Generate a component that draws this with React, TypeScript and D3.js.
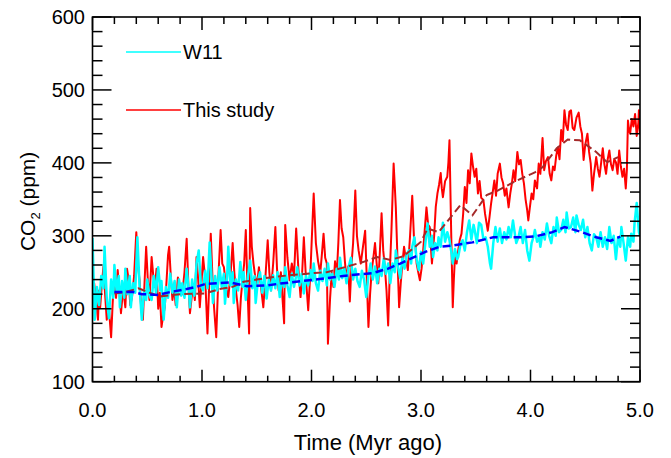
import React from "react";
import * as d3 from "d3";

// time (Myr ago), CO2 (ppm)
const thisStudy: [number, number][] = [
  [0.0, 216], [0.015, 235], [0.03, 214], [0.05, 185], [0.06, 225], [0.07, 202], [0.085, 232],
  [0.1, 258], [0.115, 220], [0.13, 185], [0.15, 200], [0.17, 161], [0.185, 210], [0.2, 243],
  [0.215, 215], [0.23, 253], [0.245, 225], [0.26, 194], [0.28, 228], [0.3, 202], [0.315, 255],
  [0.33, 240], [0.345, 205], [0.36, 215], [0.38, 245], [0.4, 305], [0.415, 260], [0.43, 239],
  [0.445, 200], [0.46, 185], [0.475, 235], [0.49, 285], [0.505, 240], [0.52, 212], [0.54, 271],
  [0.555, 245], [0.57, 230], [0.585, 255], [0.6, 200], [0.615, 222], [0.63, 175], [0.645, 190],
  [0.66, 202], [0.675, 235], [0.69, 274], [0.7, 285], [0.715, 245], [0.73, 212], [0.745, 228],
  [0.76, 205], [0.78, 243], [0.8, 232], [0.82, 220], [0.84, 250], [0.86, 296], [0.875, 235],
  [0.89, 194], [0.905, 215], [0.92, 230], [0.935, 212], [0.95, 271], [0.965, 240], [0.98, 202],
  [0.995, 235], [1.01, 271], [1.03, 240], [1.05, 166], [1.065, 230], [1.08, 303], [1.095, 245],
  [1.11, 202], [1.13, 161], [1.15, 245], [1.17, 308], [1.185, 262], [1.2, 257], [1.22, 230],
  [1.24, 216], [1.26, 245], [1.28, 290], [1.295, 250], [1.31, 225], [1.325, 205], [1.34, 175],
  [1.355, 215], [1.37, 240], [1.385, 262], [1.4, 308], [1.415, 230], [1.43, 166], [1.44, 338],
  [1.455, 285], [1.47, 262], [1.485, 245], [1.5, 230], [1.52, 257], [1.54, 228], [1.56, 202],
  [1.58, 245], [1.6, 294], [1.615, 250], [1.63, 225], [1.65, 262], [1.67, 312], [1.685, 255],
  [1.7, 225], [1.72, 250], [1.735, 215], [1.75, 180], [1.76, 315], [1.78, 270], [1.8, 239],
  [1.82, 262], [1.84, 245], [1.86, 310], [1.88, 255], [1.9, 216], [1.915, 250], [1.93, 298],
  [1.95, 240], [1.97, 198], [1.99, 250], [2.02, 358], [2.04, 290], [2.06, 265], [2.08, 249],
  [2.095, 275], [2.11, 303], [2.125, 270], [2.14, 262], [2.15, 152], [2.17, 215], [2.185, 250],
  [2.2, 230], [2.215, 265], [2.23, 245], [2.245, 290], [2.26, 349], [2.275, 310], [2.29, 298],
  [2.305, 265], [2.32, 240], [2.335, 258], [2.35, 210], [2.365, 260], [2.38, 290], [2.4, 362],
  [2.415, 300], [2.43, 280], [2.45, 262], [2.47, 285], [2.49, 307], [2.505, 240], [2.52, 175],
  [2.535, 220], [2.55, 253], [2.565, 270], [2.58, 290], [2.595, 262], [2.61, 235], [2.625, 280],
  [2.64, 331], [2.655, 280], [2.67, 257], [2.685, 225], [2.7, 177], [2.715, 250], [2.73, 307],
  [2.75, 399], [2.76, 370], [2.77, 339], [2.785, 270], [2.8, 202], [2.815, 235], [2.83, 262],
  [2.845, 285], [2.86, 270], [2.88, 253], [2.9, 300], [2.92, 355], [2.935, 300], [2.95, 285],
  [2.96, 262], [2.975, 250], [2.99, 239], [3.005, 255], [3.02, 280], [3.035, 310], [3.05, 339],
  [3.065, 315], [3.08, 312], [3.09, 285], [3.1, 262], [3.12, 300], [3.135, 340], [3.15, 358],
  [3.165, 370], [3.18, 386], [3.19, 365], [3.2, 353], [3.22, 375], [3.24, 381], [3.25, 400],
  [3.26, 431], [3.275, 310], [3.29, 202], [3.3, 240], [3.31, 271], [3.325, 262], [3.34, 280],
  [3.355, 295], [3.37, 303], [3.385, 330], [3.4, 367], [3.415, 345], [3.43, 390], [3.445, 372],
  [3.46, 413], [3.475, 395], [3.49, 381], [3.505, 392], [3.52, 358], [3.535, 375], [3.55, 352],
  [3.57, 349], [3.585, 330], [3.61, 307], [3.625, 325], [3.64, 344], [3.655, 360], [3.67, 376],
  [3.685, 355], [3.7, 385], [3.72, 399], [3.735, 380], [3.75, 372], [3.765, 355], [3.78, 365],
  [3.8, 339], [3.815, 358], [3.83, 372], [3.845, 390], [3.86, 375], [3.88, 415], [3.895, 398],
  [3.91, 404], [3.925, 385], [3.94, 372], [3.955, 350], [3.97, 335], [3.98, 321], [3.995, 340],
  [4.01, 358], [4.025, 350], [4.04, 376], [4.06, 365], [4.075, 399], [4.09, 385], [4.11, 434],
  [4.125, 390], [4.14, 402], [4.16, 408], [4.175, 385], [4.19, 376], [4.205, 395], [4.22, 390],
  [4.235, 410], [4.25, 421], [4.265, 405], [4.28, 445], [4.295, 430], [4.31, 472], [4.325, 452],
  [4.34, 445], [4.355, 470], [4.37, 472], [4.385, 448], [4.4, 445], [4.42, 462], [4.44, 469],
  [4.455, 450], [4.47, 440], [4.485, 404], [4.5, 425], [4.52, 440], [4.535, 415], [4.55, 399],
  [4.565, 362], [4.58, 385], [4.6, 408], [4.615, 392], [4.63, 381], [4.645, 400], [4.66, 420],
  [4.675, 398], [4.69, 385], [4.705, 405], [4.72, 417], [4.735, 398], [4.75, 390], [4.765, 405],
  [4.78, 401], [4.795, 385], [4.81, 417], [4.825, 395], [4.84, 381], [4.855, 392], [4.87, 365],
  [4.88, 390], [4.89, 458], [4.9, 445], [4.91, 440], [4.925, 460], [4.94, 450], [4.955, 467],
  [4.97, 437], [4.985, 455], [4.99, 472], [5.0, 440],
];

const w11: [number, number][] = [
  [0.0, 297], [0.02, 185], [0.04, 230], [0.06, 205], [0.08, 245], [0.1, 228], [0.11, 285],
  [0.13, 215], [0.15, 187], [0.17, 240], [0.19, 215], [0.2, 260], [0.22, 225], [0.24, 245],
  [0.25, 202], [0.27, 238], [0.29, 215], [0.3, 255], [0.32, 220], [0.34, 245], [0.35, 202],
  [0.37, 235], [0.39, 222], [0.41, 298], [0.43, 230], [0.45, 185], [0.47, 225], [0.49, 212],
  [0.5, 240], [0.52, 218], [0.54, 212], [0.56, 245], [0.58, 222], [0.6, 257], [0.62, 225],
  [0.63, 238], [0.65, 185], [0.67, 230], [0.69, 215], [0.71, 248], [0.73, 222], [0.75, 238],
  [0.77, 202], [0.79, 240], [0.81, 218], [0.82, 235], [0.84, 215], [0.86, 255], [0.88, 225],
  [0.89, 202], [0.91, 240], [0.93, 218], [0.95, 262], [0.97, 280], [0.99, 232], [1.01, 225],
  [1.03, 252], [1.05, 228], [1.07, 291], [1.09, 235], [1.1, 208], [1.12, 245], [1.14, 225],
  [1.16, 257], [1.18, 230], [1.2, 248], [1.21, 207], [1.23, 245], [1.24, 285], [1.26, 232],
  [1.28, 250], [1.29, 208], [1.31, 240], [1.33, 225], [1.35, 264], [1.37, 230], [1.38, 250],
  [1.4, 212], [1.42, 245], [1.44, 266], [1.46, 228], [1.48, 245], [1.49, 208], [1.51, 238],
  [1.53, 250], [1.55, 222], [1.57, 245], [1.59, 214], [1.61, 240], [1.63, 225], [1.65, 246],
  [1.67, 228], [1.69, 250], [1.71, 216], [1.73, 242], [1.75, 230], [1.76, 257], [1.78, 232],
  [1.8, 216], [1.82, 248], [1.84, 230], [1.86, 245], [1.87, 257], [1.89, 232], [1.91, 248],
  [1.93, 221], [1.95, 245], [1.97, 232], [1.99, 253], [2.01, 238], [2.02, 262], [2.04, 235],
  [2.06, 225], [2.08, 252], [2.1, 238], [2.12, 255], [2.14, 232], [2.15, 262], [2.17, 240],
  [2.19, 248], [2.21, 230], [2.23, 255], [2.25, 240], [2.26, 270], [2.28, 242], [2.3, 255],
  [2.32, 235], [2.34, 258], [2.36, 270], [2.38, 240], [2.4, 255], [2.42, 238], [2.44, 230],
  [2.46, 252], [2.48, 240], [2.5, 216], [2.52, 245], [2.54, 262], [2.56, 240], [2.58, 258],
  [2.6, 235], [2.62, 255], [2.64, 245], [2.66, 269], [2.68, 248], [2.7, 262], [2.72, 235],
  [2.74, 262], [2.76, 250], [2.77, 280], [2.79, 258], [2.81, 242], [2.83, 270], [2.85, 255],
  [2.87, 275], [2.89, 280], [2.91, 262], [2.92, 285], [2.94, 298], [2.96, 268], [2.98, 253],
  [3.0, 278], [3.02, 262], [3.04, 290], [3.06, 317], [3.08, 285], [3.1, 300], [3.11, 271],
  [3.13, 290], [3.15, 280], [3.16, 298], [3.18, 285], [3.2, 318], [3.22, 292], [3.24, 305],
  [3.26, 294], [3.28, 275], [3.29, 262], [3.31, 282], [3.33, 268], [3.34, 271], [3.36, 288],
  [3.38, 294], [3.4, 280], [3.42, 305], [3.44, 321], [3.46, 295], [3.48, 315], [3.49, 308],
  [3.51, 290], [3.53, 318], [3.55, 315], [3.57, 295], [3.59, 298], [3.61, 285], [3.63, 262],
  [3.64, 255], [3.66, 290], [3.68, 312], [3.7, 292], [3.72, 310], [3.74, 290], [3.76, 305],
  [3.78, 295], [3.8, 312], [3.82, 298], [3.84, 321], [3.85, 310], [3.87, 290], [3.89, 298],
  [3.91, 312], [3.93, 290], [3.95, 308], [3.97, 280], [3.99, 266], [4.01, 290], [4.03, 300],
  [4.04, 308], [4.06, 292], [4.08, 298], [4.09, 285], [4.11, 305], [4.13, 295], [4.15, 317],
  [4.17, 300], [4.19, 290], [4.21, 312], [4.23, 300], [4.24, 325], [4.26, 305], [4.28, 308],
  [4.3, 322], [4.32, 305], [4.33, 332], [4.35, 310], [4.37, 312], [4.39, 325], [4.41, 305],
  [4.42, 328], [4.44, 315], [4.46, 308], [4.48, 322], [4.5, 298], [4.52, 312], [4.54, 290],
  [4.56, 280], [4.58, 302], [4.6, 298], [4.62, 285], [4.64, 305], [4.66, 285], [4.68, 298],
  [4.7, 282], [4.72, 312], [4.74, 290], [4.76, 300], [4.78, 268], [4.8, 298], [4.82, 285],
  [4.83, 312], [4.85, 290], [4.87, 266], [4.89, 298], [4.91, 285], [4.92, 303], [4.94, 292],
  [4.95, 317], [4.97, 345], [4.99, 305], [5.0, 300],
];

// 400 kyr running means
const w11Smooth: [number, number][] = [
  [0.2, 223], [0.37, 223], [0.45, 220], [0.6, 219], [0.71, 223], [0.86, 227], [0.95, 230],
  [1.03, 234], [1.26, 236], [1.41, 231], [1.59, 232], [1.74, 235], [2.03, 240], [2.29, 245],
  [2.56, 249], [2.7, 255], [2.81, 262], [3.04, 278], [3.17, 285], [3.3, 287], [3.47, 291],
  [3.66, 298], [3.9, 298], [4.04, 299], [4.2, 305], [4.31, 312], [4.45, 306], [4.6, 298],
  [4.73, 293], [4.82, 299],
];

const studySmooth: [number, number][] = [
  [0.2, 221], [0.3, 223], [0.42, 228], [0.52, 222], [0.62, 217], [0.8, 220], [1.03, 221],
  [1.16, 227], [1.28, 230], [1.38, 237], [1.5, 240], [1.62, 243], [1.8, 246], [2.03, 249],
  [2.14, 250], [2.35, 259], [2.47, 264], [2.6, 271], [2.72, 267], [2.84, 272], [2.93, 283],
  [3.0, 292], [3.06, 310], [3.16, 305], [3.36, 342], [3.47, 328], [3.6, 356], [3.7, 362],
  [3.85, 374], [4.04, 387], [4.11, 394], [4.24, 420], [4.34, 432], [4.45, 431], [4.6, 415],
  [4.7, 401], [4.8, 408],
];

const xMajor = [0, 1, 2, 3, 4, 5];
const yMajor = [100, 200, 300, 400, 500, 600];

const W = 671;
const H = 458;
const left = 92.5;
const right = 640;
const top = 17;
const bottom = 381.7;
const font = "'Liberation Sans', Arial, Helvetica, sans-serif";

export default function App() {
  const x = d3.scaleLinear().domain([0, 5]).range([left, right]);
  const y = d3.scaleLinear().domain([100, 600]).range([bottom, top]);
  const line = d3
    .line<[number, number]>()
    .x((d) => x(d[0]))
    .y((d) => y(d[1]));

  const xMinor = d3.range(0, 5.001, 0.2).filter((v) => Math.abs(v - Math.round(v)) > 0.01);
  const yMinor = d3.range(100, 600.1, 20).filter((v) => v % 100 !== 0);

  return (
    <svg width={W} height={H} style={{ position: "absolute", left: 0, top: 0, background: "#fff" }}>
      <defs>
        <clipPath id="plot">
          <rect x={left} y={top} width={right - left} height={bottom - top} />
        </clipPath>
      </defs>
      <g clipPath="url(#plot)" fill="none">
        <path d={line(thisStudy) || ""} stroke="#ff0000" strokeWidth={2} strokeLinejoin="round" />
        <path d={line(w11) || ""} stroke="#00ffff" strokeWidth={2.5} strokeLinejoin="round" />
        <path d={line(studySmooth) || ""} stroke="#a52a2a" strokeWidth={2} strokeDasharray="8,4" />
        <path d={line(w11Smooth) || ""} stroke="#0000ff" strokeWidth={2.5} strokeDasharray="8,4" />
      </g>

      {/* ticks, all sides, inward */}
      <g stroke="#000" strokeWidth={1.5}>
        {xMajor.map((v) => (
          <g key={"xM" + v}>
            <line x1={x(v)} x2={x(v)} y1={bottom} y2={bottom - 12} />
            <line x1={x(v)} x2={x(v)} y1={top} y2={top + 13} />
          </g>
        ))}
        {xMinor.map((v) => (
          <g key={"xm" + v}>
            <line x1={x(v)} x2={x(v)} y1={bottom} y2={bottom - 6} />
            <line x1={x(v)} x2={x(v)} y1={top} y2={top + 7} />
          </g>
        ))}
        {yMajor.map((v) => (
          <g key={"yM" + v}>
            <line x1={left} x2={left + 19} y1={y(v)} y2={y(v)} />
            <line x1={right} x2={right - 19} y1={y(v)} y2={y(v)} />
          </g>
        ))}
        {yMinor.map((v) => (
          <g key={"ym" + v}>
            <line x1={left} x2={left + 10} y1={y(v)} y2={y(v)} />
            <line x1={right} x2={right - 10} y1={y(v)} y2={y(v)} />
          </g>
        ))}
      </g>
      <rect x={left} y={top} width={right - left} height={bottom - top} fill="none" stroke="#000" strokeWidth={1.6} />

      <g fontFamily={font} fontSize={20} fill="#000">
        {yMajor.map((v) => (
          <text key={"yl" + v} x={85} y={y(v)} dy="0.35em" textAnchor="end">
            {v}
          </text>
        ))}
        {xMajor.map((v) => (
          <text key={"xl" + v} x={x(v)} y={417} textAnchor="middle">
            {v.toFixed(1)}
          </text>
        ))}
        <text x={368} y={450} textAnchor="middle" fontSize={22}>
          Time (Myr ago)
        </text>
        <text transform={`translate(35,${(top + bottom) / 2 + 2}) rotate(-90)`} textAnchor="middle" fontSize={21}>
          CO<tspan fontSize={13} dy={5}>2</tspan>
          <tspan dy={-5}> (ppm)</tspan>
        </text>

        <line x1={126} x2={181} y1={52} y2={52} stroke="#00ffff" strokeWidth={1.5} />
        <text x={183} y={59}>W11</text>
        <line x1={126} x2={181} y1={110} y2={110} stroke="#ff0000" strokeWidth={1.5} />
        <text x={183} y={117}>This study</text>
      </g>
    </svg>
  );
}
